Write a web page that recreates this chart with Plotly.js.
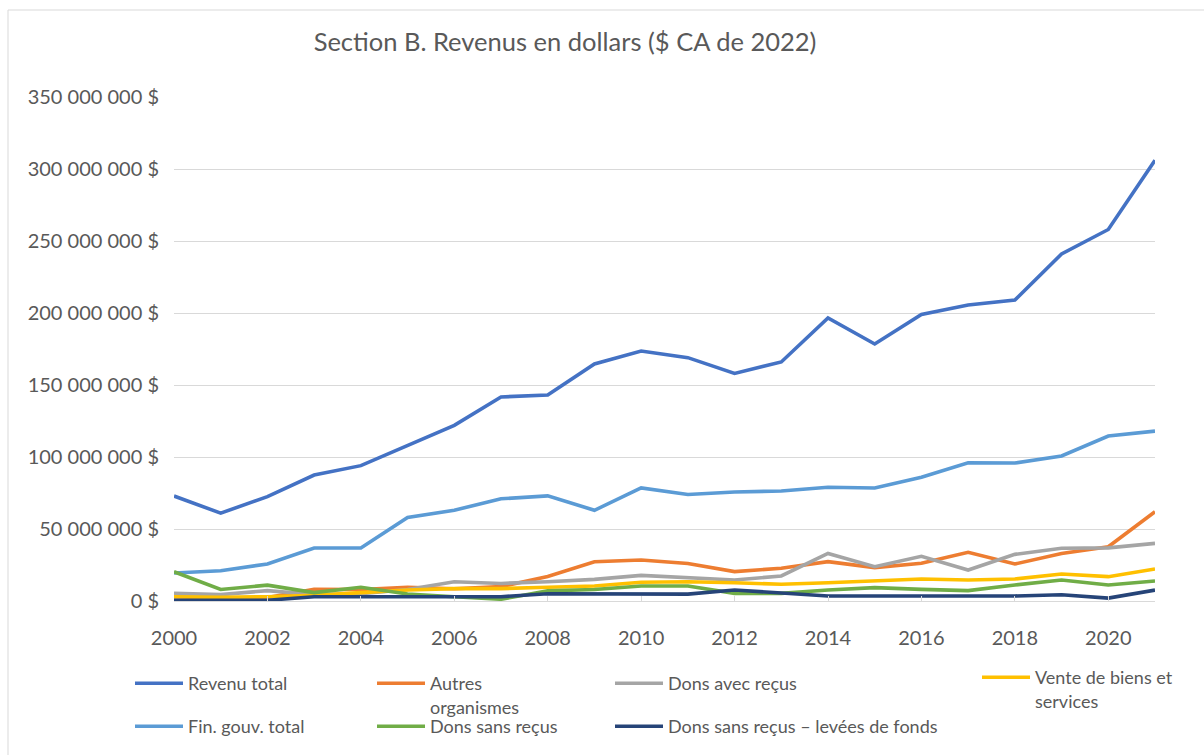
<!DOCTYPE html>
<html>
<head>
<meta charset="utf-8">
<script src="https://cdn.plot.ly/plotly-3.0.1.min.js"></script>
<style>html,body{margin:0;padding:0;background:#fff;}#chart{width:1204px;height:755px;}</style>
</head>
<body>
<div id="chart"></div>
<script>
var years = [2000,2001,2002,2003,2004,2005,2006,2007,2008,2009,2010,2011,2012,2013,2014,2015,2016,2017,2018,2019,2020,2021];
var revenuTotal = [72.9,61,72.5,87.5,94,108,122,141.7,143,164.6,173.6,169,158,166,196.5,178.5,199,205.5,209,241,258,306];
var autresOrganismes = [3,2,2.5,8.1,8,9.5,8.5,10,17,27.3,28.5,26,20.4,22.7,27.3,23.2,26.2,33.8,25.7,33,37.7,62];
var donsAvecRecus = [5.3,4.4,7.2,4.5,5,8,13.4,12.2,13.4,15,17.8,16.4,14.6,17.4,33,23.8,31,21.5,32.4,36.6,36.9,40];
var venteBiens = [3,2.5,3,4,5.8,7.6,8.6,8.6,9.5,10.4,13,13.4,12.7,11.6,12.7,13.9,15.3,14.6,15.3,18.7,16.9,22.2];
var finGouvTotal = [19.4,21,25.7,36.8,36.8,58,63,71,73,63,78.5,74,75.7,76.4,79,78.5,86,96,95.8,100.7,114.6,118];
var donsSansRecus = [20.3,8,11,5.8,9.5,4.9,3,1.2,7,8,10.4,10.4,5.3,5.3,7.6,9.3,8.1,7.2,11.1,14.6,11.1,13.9];
var leveesFonds = [0.5,0.5,0.5,3,3,3,2.5,3,5,4.8,4.8,4.8,7.6,5.3,3.5,3.5,3.5,3.5,3.5,4.3,2,7.6];
var xTickVals = [2000,2002,2004,2006,2008,2010,2012,2014,2016,2018,2020];

function M(a){return a.map(function(v){return v*1e6;});}

var series = [
  {name:'Revenu total', y:revenuTotal, color:'#4472C4', legend:'legend'},
  {name:'Autres<br>organismes', y:autresOrganismes, color:'#ED7D31', legend:'legend2'},
  {name:'Dons avec reçus', y:donsAvecRecus, color:'#A5A5A5', legend:'legend3'},
  {name:'Vente de biens et<br>services', y:venteBiens, color:'#FFC000', legend:'legend4'},
  {name:'Fin. gouv. total', y:finGouvTotal, color:'#5B9BD5', legend:'legend5'},
  {name:'Dons sans reçus', y:donsSansRecus, color:'#70AD47', legend:'legend6'},
  {name:'Dons sans reçus – levées de fonds', y:leveesFonds, color:'#264478', legend:'legend7'}
];

var traces = series.map(function(s){
  return {x:years, y:M(s.y), type:'scatter', mode:'lines', name:s.name,
    line:{color:s.color, width:3.6}, cliponaxis:false, legend:s.legend};
});

var L=174, R=1155, T=97, B=601;
function px(x){return (x-L)/(R-L);}
function py(y){return (B-y)/(B-T);}
var FONT = 'Lato, "Open Sans", sans-serif';
function leg(textX, centerY){
  return {x:px(textX-58), y:py(centerY-19), xanchor:'left', yanchor:'top',
    bgcolor:'rgba(0,0,0,0)', borderwidth:0, valign:'top', itemwidth:48,
    font:{family:FONT, size:18, color:'#595959'}};
}

var layout = {
  width:1204, height:755,
  margin:{l:L, r:1204-R, t:T, b:755-B, autoexpand:false},
  paper_bgcolor:'#fff', plot_bgcolor:'#fff',
  separators:', ',
  font:{family:FONT, color:'#595959'},
  title:{text:'Section B. Revenus en dollars ($ CA de 2022)', x:565/1204, xanchor:'center', y:1-42/755, yanchor:'middle',
    font:{family:FONT, size:25.5, color:'#595959'}},
  showlegend:true,
  xaxis:{range:[2000,2021], tickvals:xTickVals, showgrid:false, zeroline:false,
    showline:true, linecolor:'#D9D9D9', linewidth:1, ticks:'inside', ticklen:5, tickcolor:'#D9D9D9',
    tickfont:{family:FONT, size:20, color:'#595959'}, ticklabelstandoff:19},
  yaxis:{range:[0,350e6], dtick:50e6, tick0:0, tickformat:',d', ticksuffix:' $',
    showgrid:true, gridcolor:'#D9D9D9', gridwidth:1, zeroline:false, showline:false,
    tickfont:{family:FONT, size:20, color:'#595959'}, ticklabelstandoff:14},
  legend:leg(188,684), legend2:leg(430,684), legend3:leg(668,684), legend4:leg(1035,678),
  legend5:leg(188,727), legend6:leg(430,727), legend7:leg(668,727),
  shapes:[{type:'rect', xref:'paper', yref:'paper', x0:px(8), x1:px(1230), y0:py(780), y1:py(10),
    line:{color:'#D9D9D9', width:1}, fillcolor:'rgba(0,0,0,0)', layer:'below'}]
};

Plotly.newPlot('chart', traces, layout, {displayModeBar:false, staticPlot:true});
</script>
</body>
</html>
